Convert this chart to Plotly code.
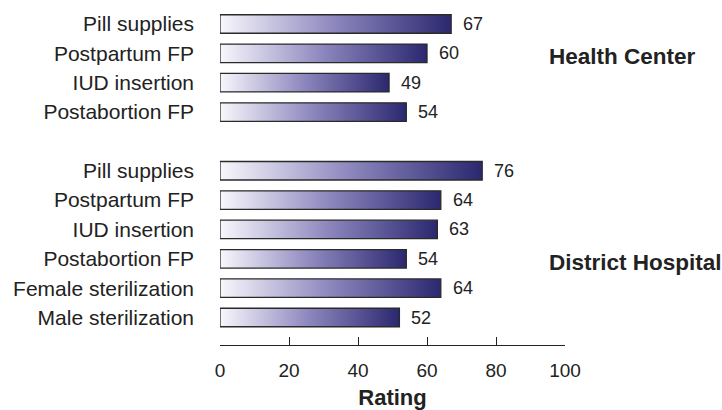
import plotly.graph_objects as go

# Ratings of family planning services by facility level
hc_services = ["Pill supplies", "Postpartum FP", "IUD insertion", "Postabortion FP"]
hc_ratings = [67, 60, 49, 54]

dh_services = ["Pill supplies", "Postpartum FP", "IUD insertion", "Postabortion FP",
               "Female sterilization", "Male sterilization"]
dh_ratings = [76, 64, 63, 54, 64, 52]

groups = ["Health Center", "District Hospital"]
x_ticks = [0, 20, 40, 60, 80, 100]

FONT = "Liberation Sans, Arial, Helvetica, sans-serif"
TEXT = "#222222"
BAR_HALF = 0.315
GRADIENT = [[0, "#f8f7fc"], [0.5, "#8c86bd"], [1, "#2c2870"]]

# Row positions: one blank row separates the two facility groups
hc_rows = list(range(len(hc_services)))
dh_rows = [len(hc_services) + 1 + i for i in range(len(dh_services))]

rows = hc_rows + dh_rows
labels = hc_services + dh_services
values = hc_ratings + dh_ratings

fig = go.Figure()

for r, v in zip(rows, values):
    fig.add_trace(go.Scatter(
        x=[0, v, v, 0, 0],
        y=[r - BAR_HALF, r - BAR_HALF, r + BAR_HALF, r + BAR_HALF, r - BAR_HALF],
        mode="lines",
        fill="toself",
        fillgradient=dict(type="horizontal", colorscale=GRADIENT),
        line=dict(color="#2a2a2a", width=1.3),
        hoverinfo="skip",
        showlegend=False,
    ))

# Value labels to the right of each bar
for r, v in zip(rows, values):
    fig.add_annotation(
        x=v, y=r, xref="x", yref="y",
        text=str(v), showarrow=False,
        xanchor="left", yanchor="middle", xshift=10,
        font=dict(family=FONT, size=18, color=TEXT),
    )

# Group names on the right side
group_rows = [1.12, 8.11]
for name, gy in zip(groups, group_rows):
    fig.add_annotation(
        xref="paper", yref="y", x=0.948, y=gy,
        text=f"<b>{name}</b>", showarrow=False,
        xanchor="left", yanchor="middle",
        font=dict(family=FONT, size=22.5, color=TEXT),
    )

fig.update_layout(
    width=722, height=410,
    margin=dict(l=220, r=157, t=0, b=65),
    paper_bgcolor="white", plot_bgcolor="white",
    font=dict(family=FONT, color=TEXT),
    xaxis=dict(
        range=[0, 100],
        tickvals=x_ticks,
        ticks="inside", ticklen=8, tickwidth=1.2, tickcolor=TEXT,
        showline=True, linecolor=TEXT, linewidth=1.2,
        showgrid=False, zeroline=False,
        tickfont=dict(family=FONT, size=19, color=TEXT),
        ticklabelstandoff=8,
        title=dict(text="<b>Rating</b>", font=dict(family=FONT, size=22, color=TEXT), standoff=10),
        fixedrange=True,
    ),
    yaxis=dict(
        range=[10.937, -0.818],
        tickvals=rows,
        ticktext=labels,
        ticks="", showline=False, showgrid=False, zeroline=False,
        tickfont=dict(family=FONT, size=21, color=TEXT),
        ticklabelstandoff=25,
        fixedrange=True,
    ),
)

fig.write_html("out.html")
